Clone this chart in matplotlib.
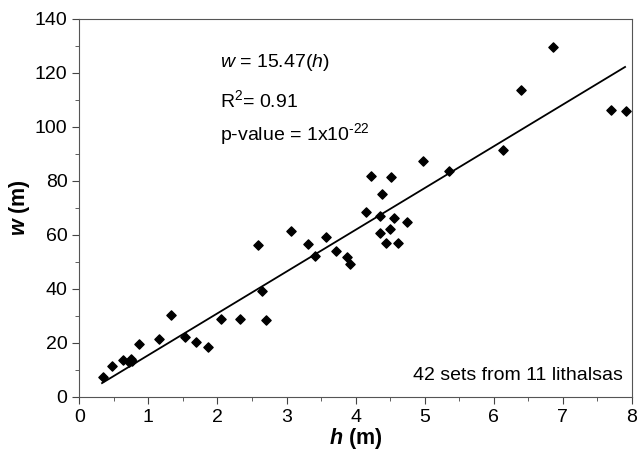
import numpy as np
import matplotlib
matplotlib.use('Agg')
import matplotlib.pyplot as plt
from matplotlib.ticker import MultipleLocator

plt.rcParams['font.family'] = ['Liberation Sans', 'DejaVu Sans']
plt.rcParams['mathtext.fontset'] = 'custom'
plt.rcParams['mathtext.rm'] = 'Liberation Sans'
plt.rcParams['mathtext.it'] = 'Liberation Sans:italic'
plt.rcParams['mathtext.bf'] = 'Liberation Sans:bold:italic'

# lithalsa height h (m) and width w (m)
h = [0.34, 0.48, 0.64, 0.72, 0.75, 0.77, 0.87, 1.16, 1.33, 1.53,
     1.69, 1.86, 2.05, 2.33, 2.59, 2.64, 2.71, 3.07, 3.31, 3.41,
     3.57, 3.72, 3.87, 3.92, 4.15, 4.22, 4.35, 4.36, 4.38, 4.44,
     4.50, 4.51, 4.55, 4.61, 4.75, 4.97, 5.35, 6.13, 6.39, 6.86,
     7.69, 7.91]
w = [7.4, 11.5, 13.8, 12.8, 14.2, 13.2, 19.5, 21.6, 30.4, 22.3,
     20.3, 18.6, 28.7, 28.7, 56.3, 39.2, 28.3, 61.6, 56.8, 52.2,
     59.2, 53.9, 51.8, 49.2, 68.5, 82.0, 60.6, 66.9, 75.2, 56.9,
     62.3, 81.6, 66.2, 56.9, 64.8, 87.4, 83.5, 91.6, 113.5, 129.5,
     106.4, 106.0]
slope = 15.47
fit_h = [0.33, 7.9]

fig = plt.figure(figsize=(6.39, 4.51), dpi=100)
ax = fig.add_axes([0.124, 0.12, 0.865, 0.838])

ax.scatter(h, w, marker='D', s=22, color='black', zorder=3)
fit_h = np.array(fit_h)
ax.plot(fit_h, slope * fit_h, color='black', lw=1.3)

ax.set_xlim(0, 8)
ax.set_ylim(0, 140)
ax.xaxis.set_major_locator(MultipleLocator(1))
ax.xaxis.set_minor_locator(MultipleLocator(0.5))
ax.yaxis.set_major_locator(MultipleLocator(20))
ax.yaxis.set_minor_locator(MultipleLocator(10))
ax.tick_params(which='both', direction='out', labelsize=14, color='#444444')
ax.tick_params(which='major', length=5)
ax.tick_params(which='minor', length=3)
for sp in ax.spines.values():
    sp.set_color('#555555')

ax.set_xlabel(r'$\mathbf{h}$ (m)', fontsize=15.5, fontweight='bold', labelpad=0)
ax.set_ylabel(r'$\mathbf{w}$ (m)', fontsize=15.5, fontweight='bold', labelpad=2)

ax.text(2.04, 123.7, r'$\it{w}$ = 15.47($\it{h}$)', fontsize=14, va='center')
ax.text(2.04, 110, r'R$^2$= 0.91', fontsize=14, va='center')
ax.text(2.04, 97.5, r'p-value = 1x10$^{\text{-22}}$', fontsize=14, va='center')
ax.text(7.87, 8, '42 sets from 11 lithalsas', fontsize=14, ha='right', va='center')

fig.savefig('out.png', dpi=100)
